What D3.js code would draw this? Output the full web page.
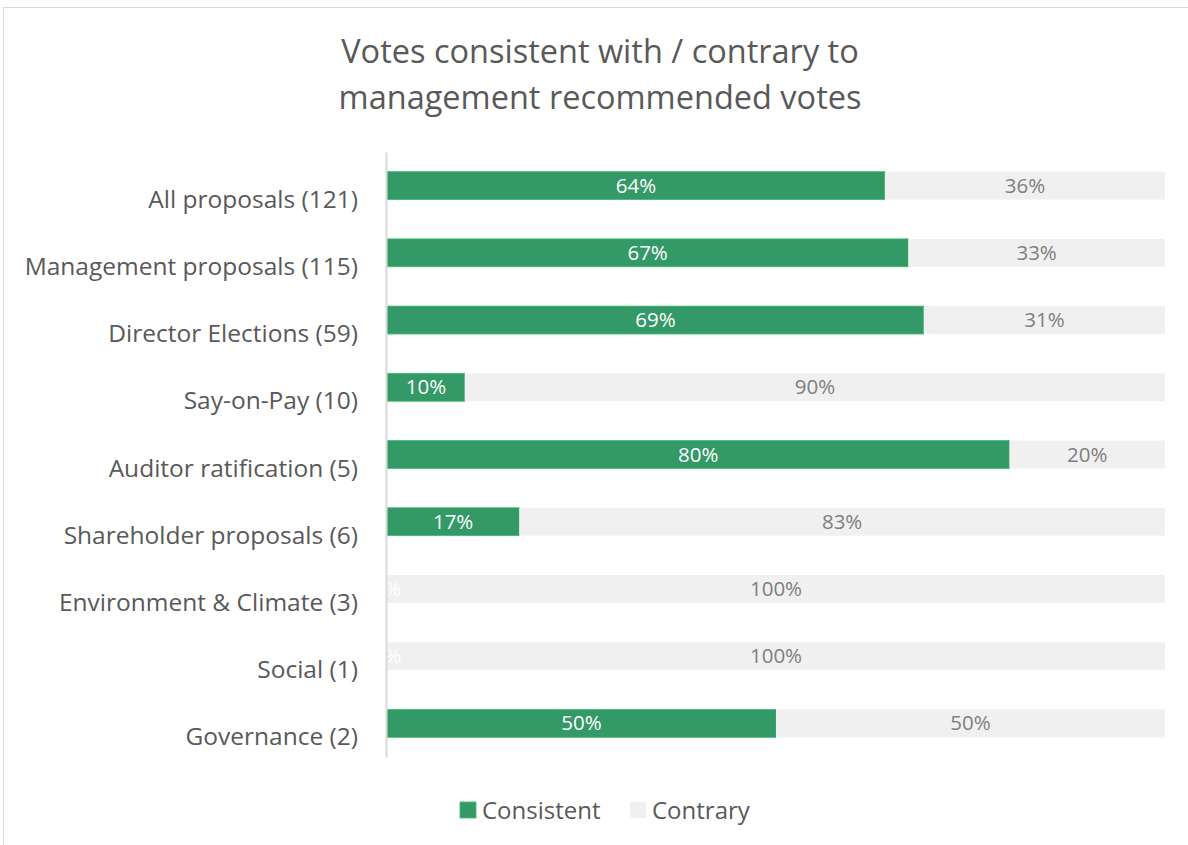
<!DOCTYPE html>
<html><head><meta charset="utf-8">
<script src="https://cdn.jsdelivr.net/npm/d3@7"></script>
<style>body{margin:0;background:#fff;} text{font-family:"Open Sans","Liberation Sans",sans-serif;}</style>
</head><body>
<svg id="c" width="1188" height="845"></svg>
<script>
const categories = ["All proposals (121)","Management proposals (115)","Director Elections (59)","Say-on-Pay (10)","Auditor ratification (5)","Shareholder proposals (6)","Environment & Climate (3)","Social (1)","Governance (2)"];
const consistent = [64,67,69,10,80,17,0,0,50];
const contrary = [36,33,31,90,20,83,100,100,50];
const seriesNames = ["Consistent","Contrary"];
const titleLines = ["Votes consistent with / contrary to","management recommended votes"];

const svg = d3.select("#c");
svg.append("rect").attr("x",3.5).attr("y",7.5).attr("width",1200).attr("height",850).attr("fill","#fff").attr("stroke","#d9d9d9");

svg.selectAll("text.title").data(titleLines).join("text").attr("class","title")
  .attr("x",600).attr("y",(d,i)=>63+i*46).attr("text-anchor","middle")
  .attr("font-size",32.5).attr("fill","#595959").text(d=>d);

const x = d3.scaleLinear().domain([0,100]).range([387,1165]);
const y = d3.scaleBand().domain(categories).range([152,757]).paddingInner(0.585).paddingOuter(0.2925);

const rows = categories.map((c,i)=>({c, a:consistent[i], b:contrary[i]}));

svg.selectAll("rect.con").data(rows).join("rect")
  .attr("x",x(0)).attr("y",d=>y(d.c)).attr("width",d=>x(d.a)-x(0)).attr("height",y.bandwidth())
  .attr("fill","#339966").attr("stroke",d=>d.a>0?"#3dbb72":"none").attr("stroke-width",0.8);
svg.selectAll("rect.ctr").data(rows).join("rect")
  .attr("x",d=>x(d.a)).attr("y",d=>y(d.c)).attr("width",d=>x(d.a+d.b)-x(d.a)).attr("height",y.bandwidth())
  .attr("fill","#f0f0f0");

svg.selectAll("text.lc").data(rows).join("text")
  .attr("x",d=>(x(0)+x(d.a))/2).attr("y",d=>y(d.c)+y.bandwidth()/2+7)
  .attr("text-anchor","middle").attr("font-size",20.5).attr("fill","#fff").text(d=>d.a+"%");
svg.selectAll("text.lb").data(rows).join("text")
  .attr("x",d=>(x(d.a)+x(d.a+d.b))/2).attr("y",d=>y(d.c)+y.bandwidth()/2+7)
  .attr("text-anchor","middle").attr("font-size",20.5).attr("fill","#7f7f7f").text(d=>d.b+"%");

const ax = svg.append("g").attr("transform","translate(386,0)")
  .call(d3.axisLeft(y).tickSize(0).tickPadding(28));
ax.select(".domain").attr("stroke","#d9d9d9").attr("stroke-width",2);
ax.selectAll("text").attr("font-size",24.5).attr("fill","#595959").attr("dy","0.9em")
  .style("font-family",'"Open Sans","Liberation Sans",sans-serif');

const lg = svg.append("g");
const lx = [460,630], colors=["#339966","#f0f0f0"];
seriesNames.forEach((n,i)=>{
  lg.append("rect").attr("x",lx[i]).attr("y",802).attr("width",16).attr("height",16).attr("fill",colors[i])
    .attr("stroke",i==0?"#3dbb72":"none").attr("stroke-width",0.8);
  lg.append("text").attr("x",lx[i]+22).attr("y",819).attr("font-size",24).attr("fill","#595959").text(n);
});
</script>
</body></html>
